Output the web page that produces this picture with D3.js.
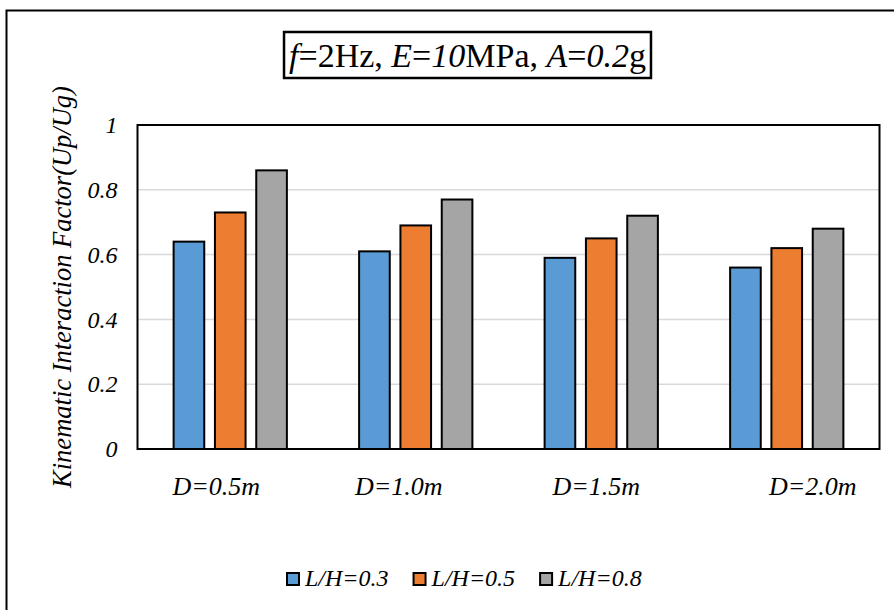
<!DOCTYPE html>
<html>
<head>
<meta charset="utf-8">
<script src="https://cdn.jsdelivr.net/npm/d3@7"></script>
<style>
  html, body { margin: 0; padding: 0; background: #fff; }
  svg { display: block; }
  svg text { font-family: "Liberation Serif", "Times New Roman", serif; }
</style>
</head>
<body>
<svg id="chart" width="894" height="610"></svg>
<script>
// ---- data ----
const categories = ["D=0.5m", "D=1.0m", "D=1.5m", "D=2.0m"];
const seriesNames = ["L/H=0.3", "L/H=0.5", "L/H=0.8"];
const valuesLH03 = [0.64, 0.61, 0.59, 0.56];
const valuesLH05 = [0.73, 0.69, 0.65, 0.62];
const valuesLH08 = [0.86, 0.77, 0.72, 0.68];
const yTicks = [0, 0.2, 0.4, 0.6, 0.8, 1];
const yTickLabels = ["0", "0.2", "0.4", "0.6", "0.8", "1"];
const yTitle = "Kinematic Interaction Factor(Up/Ug)";

// ---- layout / style ----
const colors = ["#5B9BD5", "#ED7D31", "#A5A5A5"];
const plot = { left: 137.5, right: 879.5, top: 125, bottom: 449 };
const labelNudge = [-14, -17, -5, 26]; // hand-placed category labels in the original

const seriesValues = [valuesLH03, valuesLH05, valuesLH08];
const svg = d3.select("#chart");

// outer frame
svg.append("rect")
  .attr("x", 6.5).attr("y", 10.5)
  .attr("width", 900).attr("height", 620)
  .attr("fill", "none").attr("stroke", "#000").attr("stroke-width", 2);

// scales
const x0 = d3.scaleBand().domain(categories).range([plot.left, plot.right]).paddingInner(0).paddingOuter(0);
const x1 = d3.scaleBand().domain(seriesNames).range([0, x0.bandwidth()]).paddingInner(0.21).paddingOuter(0.85);
const y = d3.scaleLinear().domain([0, 1]).range([plot.bottom, plot.top]);

// gridlines
svg.append("g").selectAll("line").data(yTicks.filter(d => d > 0 && d < 1)).join("line")
  .attr("x1", plot.left).attr("x2", plot.right)
  .attr("y1", d => y(d)).attr("y2", d => y(d))
  .attr("stroke", "#D9D9D9").attr("stroke-width", 1.5);

// bars
const groups = svg.append("g").selectAll("g").data(categories).join("g")
  .attr("transform", d => `translate(${x0(d)},0)`);
groups.selectAll("rect")
  .data((c, i) => seriesNames.map((s, j) => ({ s, j, v: seriesValues[j][i] })))
  .join("rect")
  .attr("x", d => x1(d.s) + 1)
  .attr("width", x1.bandwidth() - 2)
  .attr("y", d => y(d.v))
  .attr("height", d => y(0) - y(d.v))
  .attr("fill", d => colors[d.j])
  .attr("stroke", "#000").attr("stroke-width", 2);

// plot border
svg.append("rect")
  .attr("x", plot.left).attr("y", plot.top)
  .attr("width", plot.right - plot.left).attr("height", plot.bottom - plot.top)
  .attr("fill", "none").attr("stroke", "#000").attr("stroke-width", 2);

// y axis labels
const yAxis = d3.axisLeft(y).tickValues(yTicks)
  .tickFormat((d, i) => yTickLabels[i]).tickSize(0).tickPadding(20);
const yg = svg.append("g").attr("transform", `translate(${plot.left},0)`).call(yAxis);
yg.select(".domain").remove();
yg.attr("font-family", null).attr("font-size", null);
yg.selectAll("text")
  .attr("font-style", "italic")
  .attr("font-size", 24)
  .attr("fill", "#000");

// y axis title
svg.append("text")
  .attr("transform", `translate(71,${(plot.top + plot.bottom) / 2}) rotate(-90)`)
  .attr("text-anchor", "middle")
  .attr("font-style", "italic")
  .attr("font-size", 26.5)
  .text(yTitle);

// x category labels
svg.append("g").selectAll("text").data(categories).join("text")
  .attr("x", (d, i) => x0(d) + x0.bandwidth() / 2 + labelNudge[i])
  .attr("y", 495)
  .attr("text-anchor", "middle")
  .attr("font-style", "italic")
  .attr("font-size", 26)
  .text(d => d);

// title box
const titleG = svg.append("g");
const tt = titleG.append("text")
  .attr("x", 467.5).attr("y", 67)
  .attr("text-anchor", "middle")
  .attr("font-size", 34);
const titleParts = [
  ["f", true], ["=2Hz, ", false], ["E", true], ["=", false], ["10", true],
  ["MPa, ", false], ["A", true], ["=", false], ["0.2", true], ["g", false]
];
titleParts.forEach(([t, it]) => tt.append("tspan").attr("font-style", it ? "italic" : "normal").text(t));
const tb = tt.node().getBBox();
titleG.insert("rect", "text")
  .attr("x", tb.x - 5).attr("y", 32)
  .attr("width", tb.width + 10).attr("height", 46)
  .attr("fill", "#fff").attr("stroke", "#000").attr("stroke-width", 2.5);

// legend
const legend = svg.append("g");
let lx = 287;
seriesNames.forEach((s, j) => {
  legend.append("rect")
    .attr("x", lx).attr("y", 573)
    .attr("width", 12).attr("height", 12)
    .attr("fill", colors[j]).attr("stroke", "#000").attr("stroke-width", 2);
  const t = legend.append("text")
    .attr("x", lx + 18).attr("y", 586)
    .attr("font-style", "italic")
    .attr("font-size", 24)
    .text(s);
  lx = lx + 18 + t.node().getComputedTextLength() + 25;
});
</script>
</body>
</html>
